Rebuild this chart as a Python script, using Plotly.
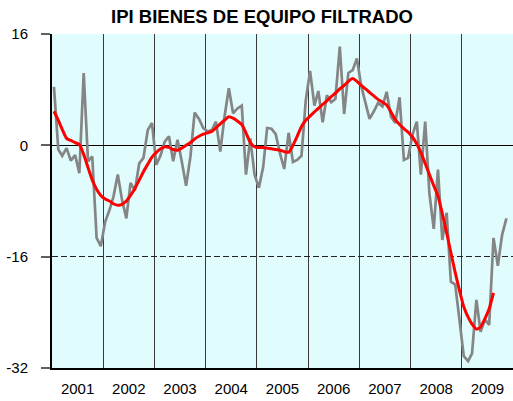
import pandas as pd
import plotly.graph_objects as go

# Monthly values (Jan 2001 - Nov 2009)
gray_2001 = [8.4, -0.6, -1.5, -0.4, -2.2, -1.4, -4.0, 10.4, -2.3, -1.6, -13.3, -14.5]
gray_2002 = [-11.0, -9.3, -7.4, -4.2, -7.8, -10.5, -5.4, -6.5, -2.6, -1.8, 2.2, 3.2]
gray_2003 = [-2.8, -1.4, 0.5, 1.3, -2.3, 0.8, -2.3, -5.8, -1.6, 4.7, 3.8, 2.5]
gray_2004 = [2.0, 2.2, 3.4, -0.9, 4.1, 8.2, 4.6, 5.3, 5.7, -4.2, 1.0, -4.2]
gray_2005 = [-6.1, -3.1, 2.5, 2.4, 1.6, -1.2, -3.4, 1.8, -2.4, -2.1, -1.5, 6.4]
gray_2006 = [10.7, 5.7, 7.8, 3.3, 7.2, 6.2, 6.7, 14.2, 4.5, 10.4, 10.8, 12.5]
gray_2007 = [8.5, 6.0, 3.8, 4.9, 6.1, 5.6, 7.7, 4.1, 3.2, 6.9, -2.1, -1.8]
gray_2008 = [1.5, 3.4, -4.2, 3.4, -6.9, -12.0, -3.5, -13.6, -9.7, -19.6, -20.0, -25.0]
gray_2009 = [-30.3, -31.0, -29.9, -22.2, -26.8, -25.0, -25.8, -13.3, -17.3, -12.9, -10.5]

# Smoothed (filtered) trend, Jan 2001 - Aug 2009
red_values = [
    4.9, 3.6, 2.3, 1.0, 0.7, 0.4, 0.1, -1.3, -3.2, -5.0, -6.3, -7.2,
    -7.7, -8.0, -8.4, -8.6, -8.5, -8.0, -7.2, -6.2, -5.0, -3.8, -2.7, -1.7,
    -1.0, -0.5, -0.2, -0.3, -0.6, -0.7, -0.4, 0.0, 0.4, 0.9, 1.3, 1.6,
    1.8, 2.0, 2.5, 3.1, 3.6, 4.1, 3.9, 3.5, 3.0, 1.8, 0.4, -0.2,
    -0.3, -0.3, -0.4, -0.5, -0.6, -0.7, -0.9, -1.0, 0.0, 1.3, 2.7, 3.6,
    4.2, 4.8, 5.3, 5.9, 6.4, 7.0, 7.5, 8.1, 8.6, 9.2, 9.6, 9.2,
    8.6, 8.1, 7.6, 7.1, 6.6, 6.2, 5.8, 4.8, 3.7, 3.0, 2.4, 1.9,
    1.2, 0.2, -1.0, -2.6, -4.2, -5.8, -7.3, -9.8, -12.6, -15.4, -18.3, -20.8,
    -23.2, -24.7, -25.7, -26.4, -26.1, -24.9, -23.5, -21.2,
]

title_text = "IPI BIENES DE EQUIPO FILTRADO"
y_ticks = [-32, -16, 0, 16]

gray_values = (gray_2001 + gray_2002 + gray_2003 + gray_2004 + gray_2005
               + gray_2006 + gray_2007 + gray_2008 + gray_2009)

months = pd.date_range("2001-01-01", periods=len(gray_values), freq="MS") + pd.Timedelta(days=14)
gray_x = list(months)
red_x = list(months[:len(red_values)])

fig = go.Figure()
fig.add_trace(go.Scatter(x=gray_x, y=gray_values, mode="lines",
                         line=dict(color="#858585", width=2.7), showlegend=False))
fig.add_trace(go.Scatter(x=red_x, y=red_values, mode="lines",
                         line=dict(color="#FF0000", width=3, shape="spline", smoothing=0.6),
                         showlegend=False))

fig.update_layout(
    width=513, height=401,
    margin=dict(l=52, r=0, t=34, b=33, autoexpand=False),
    paper_bgcolor="white",
    plot_bgcolor="#E0FCFC",
    font=dict(family="Liberation Sans, Arial, sans-serif", color="black"),
    title=dict(text="<b>" + title_text + "</b>", font=dict(size=18.5, color="black"),
               x=262 / 513, xref="container", xanchor="center",
               y=1 - 17 / 401, yref="container", yanchor="middle"),
    showlegend=False,
)
fig.update_xaxes(
    type="date",
    range=["2001-01-01", "2010-01-01"],
    dtick="M12", tick0="2001-01-01",
    ticklabelmode="period", tickformat="%Y",
    ticks="", showgrid=True, gridcolor="#3a3a3a", gridwidth=1,
    showline=True, linecolor="black", linewidth=2,
    tickfont=dict(size=15), ticklabelstandoff=6, automargin=False,
)
fig.update_yaxes(
    range=[-32, 16], tickvals=y_ticks, ticktext=[str(v) for v in y_ticks],
    ticks="outside", ticklen=9, tickwidth=2, tickcolor="#606060",
    showgrid=True, gridcolor="#222222", gridwidth=1, griddash="6px,3px",
    zeroline=True, zerolinecolor="black", zerolinewidth=1,
    showline=True, linecolor="black", linewidth=2,
    tickfont=dict(size=15), ticklabelstandoff=10, automargin=False,
)

fig.write_html(
    "out.html",
    config={"displayModeBar": False},
    post_script="document.body.style.margin='0';document.body.style.overflow='hidden';",
)
